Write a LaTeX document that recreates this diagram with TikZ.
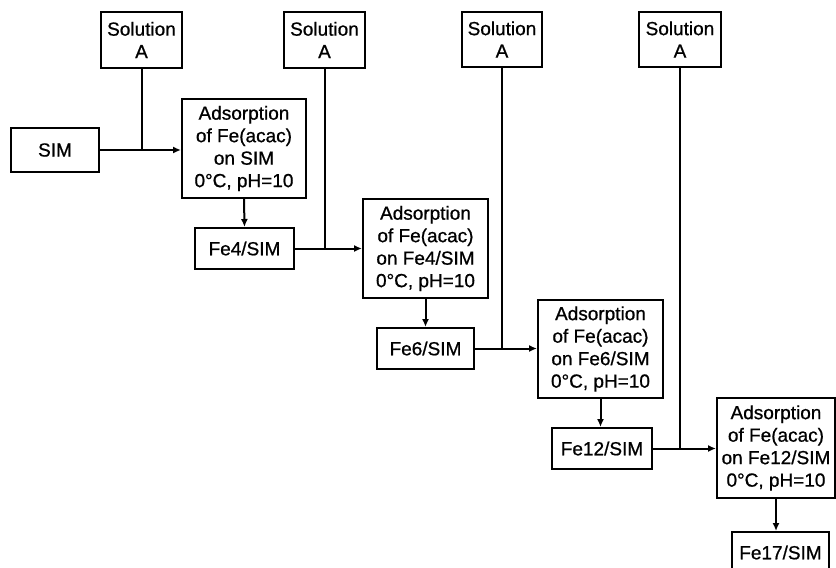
\documentclass[tikz,border=0pt]{standalone}
\usepackage{fontspec}
\setmainfont{Liberation Sans}
\newfontfamily\heavyfont{Liberation Sans}[FakeBold=0.8]
\usetikzlibrary{arrows.meta}
\begin{document}
\begin{tikzpicture}[x=1pt,y=-1pt,
  box/.style={draw,line width=2pt,inner sep=0pt,align=center,
    font=\heavyfont\fontsize{19}{22.5}\selectfont},
  line/.style={line width=2pt},
  arr/.style={line width=2pt,-{Latex[length=8pt,width=7pt]}}]
\useasboundingbox (0,0) rectangle (836,568);
% Solution A boxes
\node[box,minimum width=81pt,minimum height=56pt] (solA1) at (141.5,40) {Solution\\A};
\node[box,minimum width=81pt,minimum height=56pt] (solA2) at (324.5,40) {Solution\\A};
\node[box,minimum width=80pt,minimum height=55pt] (solA3) at (502,39.5) {Solution\\A};
\node[box,minimum width=82pt,minimum height=55pt] (solA4) at (680,39.5) {Solution\\A};
% process boxes
\node[box,minimum width=88pt,minimum height=44pt] (sim) at (55,150) {SIM};
\node[box,minimum width=124pt,minimum height=99pt] (ads1) at (244,148.5) {Adsorption\\of Fe(acac)\\on SIM\\0°C, pH=10};
\node[box,minimum width=99pt,minimum height=41pt] (fe4) at (244.5,248.5) {Fe4/SIM};
\node[box,minimum width=125pt,minimum height=99pt] (ads2) at (425.5,248.5) {Adsorption\\of Fe(acac)\\on Fe4/SIM\\0°C, pH=10};
\node[box,minimum width=97pt,minimum height=41pt] (fe6) at (425.5,348.5) {Fe6/SIM};
\node[box,minimum width=125pt,minimum height=98pt] (ads3) at (600.5,349) {Adsorption\\of Fe(acac)\\on Fe6/SIM\\0°C, pH=10};
\node[box,minimum width=100pt,minimum height=41pt] (fe12) at (602,448.5) {Fe12/SIM};
\node[box,minimum width=118pt,minimum height=100pt] (ads4) at (776,448) {Adsorption\\of Fe(acac)\\on Fe12/SIM\\0°C, pH=10};
\node[box,minimum width=97pt,minimum height=41pt] (fe17) at (780.5,552.5) {Fe17/SIM};
% junction coordinates
\coordinate (j1) at (solA1.south |- sim.east);
\coordinate (j2) at (solA2.south |- fe4.east);
\coordinate (j3) at (solA3.south |- fe6.east);
\coordinate (j4) at (solA4.south |- fe12.east);
% connectors
\draw[line] (solA1.south) -- (j1);
\draw[line] (solA2.south) -- (j2);
\draw[line] (solA3.south) -- (j3);
\draw[line] (solA4.south) -- (j4);
\draw[arr] (sim.east) -- (sim.east -| ads1.west);
\draw[arr] (fe4.east) -- (fe4.east -| ads2.west);
\draw[arr] (fe6.east) -- (fe6.east -| ads3.west);
\draw[arr] (fe12.east) -- (fe12.east -| ads4.west);
\draw[arr] (ads1.south) -- (fe4.north);
\draw[arr] (ads2.south) -- (fe6.north);
\draw[arr] (ads3.south) -- (ads3.south |- fe12.north);
\draw[arr] (ads4.south) -- (ads4.south |- fe17.north);
\end{tikzpicture}
\end{document}
